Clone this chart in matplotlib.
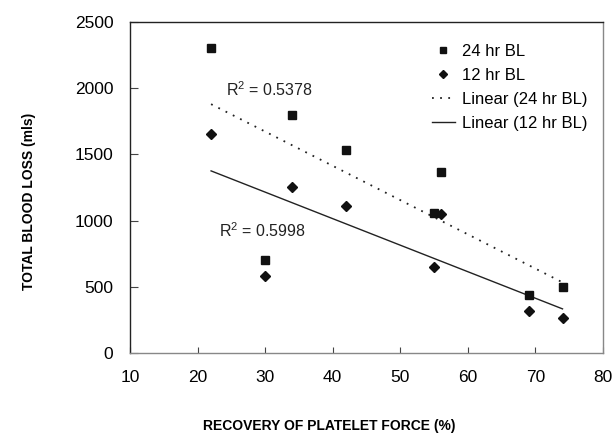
import numpy as np
import matplotlib.pyplot as plt

plt.rcParams['font.family'] = ['Liberation Sans', 'DejaVu Sans']
plt.rcParams['mathtext.fontset'] = 'custom'
plt.rcParams['mathtext.rm'] = 'Liberation Sans'

recovery = [22, 30, 34, 42, 55, 56, 69, 74]
bl_24 = [2300, 700, 1800, 1530, 1060, 1370, 440, 500]
bl_12 = [1650, 580, 1250, 1110, 650, 1050, 320, 260]

x = np.array(recovery, dtype=float)
fit24 = np.polyfit(x, bl_24, 1)
fit12 = np.polyfit(x, bl_12, 1)
xs = np.array([x.min(), x.max()])

fig = plt.figure(figsize=(6.16, 4.4), dpi=100)
ax = fig.add_axes([0.211, 0.198, 0.768, 0.752])

ax.plot(x, bl_24, 's', color='#111111', markersize=6, label='24 hr BL', zorder=3)
ax.plot(x, bl_12, 'D', color='#111111', markersize=5, label='12 hr BL', zorder=3)
ax.plot(xs, np.polyval(fit24, xs), color='#222222', lw=1.3, linestyle=(0, (1, 3.5)),
        label='Linear (24 hr BL)')
ax.plot(xs, np.polyval(fit12, xs), color='#222222', lw=1.0, label='Linear (12 hr BL)')

ax.text(24.2, 1940, r'R$\mathrm{^{2}}$ = 0.5378', fontsize=11.5, color='#222222', va='baseline')
ax.text(23.2, 874, r'R$\mathrm{^{2}}$ = 0.5998', fontsize=11.5, color='#222222', va='baseline')

ax.set_xlim(10, 80)
ax.set_ylim(0, 2500)
ax.set_xticks(range(10, 81, 10))
ax.set_yticks(range(0, 2501, 500))
ax.tick_params(axis='x', direction='in', length=4, pad=12, labelsize=12.5, color='#444444')
ax.tick_params(axis='y', direction='in', length=6, pad=12, labelsize=12.5, color='#444444')
for side in ['left', 'top']:
    ax.spines[side].set_color('#222222')
for side in ['bottom', 'right']:
    ax.spines[side].set_color('#888888')
for s in ax.spines.values():
    s.set_linewidth(1.0)

ax.set_xlabel('RECOVERY OF PLATELET FORCE (%)', fontsize=10, fontweight='bold')
ax.set_ylabel('TOTAL BLOOD LOSS (mls)', fontsize=10, fontweight='bold')
ax.xaxis.set_label_coords(0.421, -0.199)
ax.yaxis.set_label_coords(-0.199, 0.459)

ax.legend(loc='upper left', bbox_to_anchor=(0.638, 0.935), frameon=False, fontsize=12,
          handlelength=1.4, handletextpad=0.4, labelspacing=0.55, markerscale=0.75,
          borderpad=0, borderaxespad=0)

fig.savefig('out.png', dpi=100)
